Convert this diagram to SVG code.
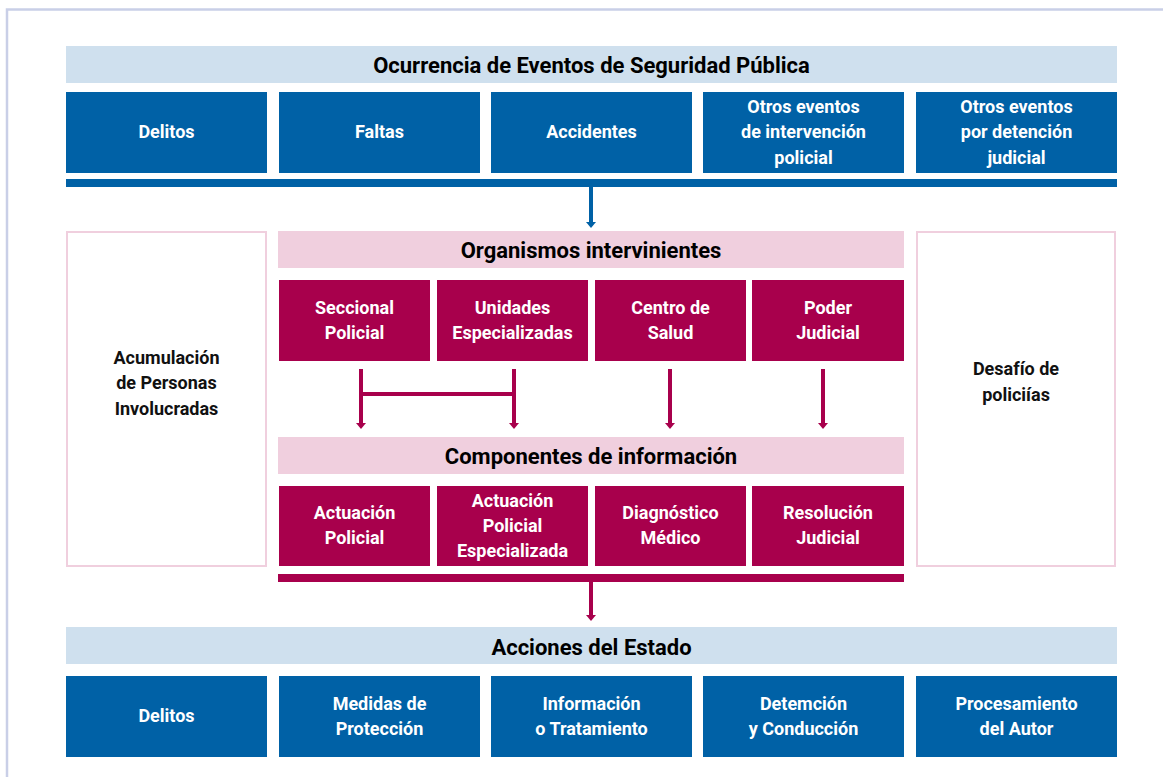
<svg xmlns="http://www.w3.org/2000/svg" width="1163" height="777" viewBox="0 0 1163 777">
<defs>
<style>
.frame{fill:#ffffff;stroke:#c9cfe7;stroke-width:2.5}
.hb{fill:#cfe0ee}
.hp{fill:#f0cfde}
.bb{fill:#0061a6}
.mb{fill:#a8004c}
.side{fill:#ffffff;stroke:#f0cfde;stroke-width:2}
text{font-family:"Roboto","Lato","Liberation Sans",sans-serif;font-weight:700;text-anchor:middle}
.ht{font-size:22px;fill:#000000}
.bt{font-size:18px;fill:#ffffff}
.st{font-size:18px;fill:#111111}
.cb{stroke:#0061a6;stroke-width:4;fill:none}
.cm{stroke:#a8004c;stroke-width:4;fill:none}
</style>
</defs>
<rect x="0" y="0" width="1163" height="777" fill="#ffffff"/>
<rect class="frame" x="7" y="9.5" width="1170" height="780"/>

<g id="top-header"><rect class="hb" x="66" y="46" width="1051" height="37"/><text class="ht" x="591.5" y="72.5">Ocurrencia de Eventos de Seguridad Pública</text></g>
<g id="ev-delitos"><rect class="bb" x="66" y="92" width="201" height="81"/><text class="bt" x="166.5" y="138">Delitos</text></g>
<g id="ev-faltas"><rect class="bb" x="279" y="92" width="201" height="81"/><text class="bt" x="379.5" y="138">Faltas</text></g>
<g id="ev-accidentes"><rect class="bb" x="491" y="92" width="201" height="81"/><text class="bt" x="591.5" y="138">Accidentes</text></g>
<g id="ev-otros1"><rect class="bb" x="703" y="92" width="201" height="81"/><text class="bt" x="803.5" y="113">Otros eventos</text><text class="bt" x="803.5" y="138">de intervención</text><text class="bt" x="803.5" y="163.5">policial</text></g>
<g id="ev-otros2"><rect class="bb" x="916" y="92" width="201" height="81"/><text class="bt" x="1016.5" y="113">Otros eventos</text><text class="bt" x="1016.5" y="138">por detención</text><text class="bt" x="1016.5" y="163.5">judicial</text></g>
<g id="bar-top"><rect class="bb" x="66" y="179" width="1051" height="8"/></g>

<g id="side-left"><rect class="side" x="67" y="232" width="199" height="334"/><text class="st" x="166.5" y="364">Acumulación</text><text class="st" x="166.5" y="389">de Personas</text><text class="st" x="166.5" y="415">Involucradas</text></g>
<g id="side-right"><rect class="side" x="917" y="232" width="198" height="334"/><text class="st" x="1016" y="375">Desafío de</text><text class="st" x="1016" y="401">policiías</text></g>

<g id="org-header"><rect class="hp" x="278" y="231" width="626" height="37"/><text class="ht" x="591" y="258">Organismos intervinientes</text></g>
<g id="org-seccional"><rect class="mb" x="279" y="280" width="151" height="81"/><text class="bt" x="354.5" y="314">Seccional</text><text class="bt" x="354.5" y="339">Policial</text></g>
<g id="org-unidades"><rect class="mb" x="437" y="280" width="151" height="81"/><text class="bt" x="512.5" y="314">Unidades</text><text class="bt" x="512.5" y="339">Especializadas</text></g>
<g id="org-centro"><rect class="mb" x="595" y="280" width="151" height="81"/><text class="bt" x="670.5" y="314">Centro de</text><text class="bt" x="670.5" y="339">Salud</text></g>
<g id="org-poder"><rect class="mb" x="752" y="280" width="152" height="81"/><text class="bt" x="828" y="314">Poder</text><text class="bt" x="828" y="339">Judicial</text></g>

<g id="comp-header"><rect class="hp" x="278" y="437" width="626" height="37"/><text class="ht" x="591" y="464">Componentes de información</text></g>
<g id="comp-actuacion"><rect class="mb" x="279" y="486" width="151" height="80"/><text class="bt" x="354.5" y="519">Actuación</text><text class="bt" x="354.5" y="544">Policial</text></g>
<g id="comp-actesp"><rect class="mb" x="437" y="486" width="151" height="80"/><text class="bt" x="512.5" y="507">Actuación</text><text class="bt" x="512.5" y="532">Policial</text><text class="bt" x="512.5" y="557">Especializada</text></g>
<g id="comp-diag"><rect class="mb" x="595" y="486" width="151" height="80"/><text class="bt" x="670.5" y="519">Diagnóstico</text><text class="bt" x="670.5" y="544">Médico</text></g>
<g id="comp-resol"><rect class="mb" x="752" y="486" width="152" height="80"/><text class="bt" x="828" y="519">Resolución</text><text class="bt" x="828" y="544">Judicial</text></g>
<g id="bar-mid"><rect class="mb" x="278" y="574" width="626" height="8"/></g>

<g id="bottom-header"><rect class="hb" x="66" y="627" width="1051" height="37"/><text class="ht" x="591.5" y="655">Acciones del Estado</text></g>
<g id="acc-delitos"><rect class="bb" x="66" y="676" width="201" height="81"/><text class="bt" x="166.5" y="722">Delitos</text></g>
<g id="acc-medidas"><rect class="bb" x="279" y="676" width="201" height="81"/><text class="bt" x="379.5" y="710">Medidas de</text><text class="bt" x="379.5" y="735">Protección</text></g>
<g id="acc-info"><rect class="bb" x="491" y="676" width="201" height="81"/><text class="bt" x="591.5" y="710">Información</text><text class="bt" x="591.5" y="735">o Tratamiento</text></g>
<g id="acc-detencion"><rect class="bb" x="703" y="676" width="201" height="81"/><text class="bt" x="803.5" y="710">Detemción</text><text class="bt" x="803.5" y="735">y Conducción</text></g>
<g id="acc-proc"><rect class="bb" x="916" y="676" width="201" height="81"/><text class="bt" x="1016.5" y="710">Procesamiento</text><text class="bt" x="1016.5" y="735">del Autor</text></g>

<g id="connectors">
<line class="cb" x1="591" y1="187" x2="591" y2="223"/>
<path d="M586,222 L596,222 L591,228 Z" fill="#0061a6"/>
<line class="cm" x1="361" y1="369" x2="361" y2="424"/>
<path d="M356,423 L366,423 L361,429 Z" fill="#a8004c"/>
<line class="cm" x1="514" y1="369" x2="514" y2="424"/>
<path d="M509,423 L519,423 L514,429 Z" fill="#a8004c"/>
<line class="cm" x1="361" y1="394" x2="514" y2="394"/>
<line class="cm" x1="670" y1="369" x2="670" y2="424"/>
<path d="M665,423 L675,423 L670,429 Z" fill="#a8004c"/>
<line class="cm" x1="823" y1="369" x2="823" y2="424"/>
<path d="M818,423 L828,423 L823,429 Z" fill="#a8004c"/>
<line class="cm" x1="591" y1="582" x2="591" y2="616"/>
<path d="M586,615 L596,615 L591,621 Z" fill="#a8004c"/>
</g>
</svg>
